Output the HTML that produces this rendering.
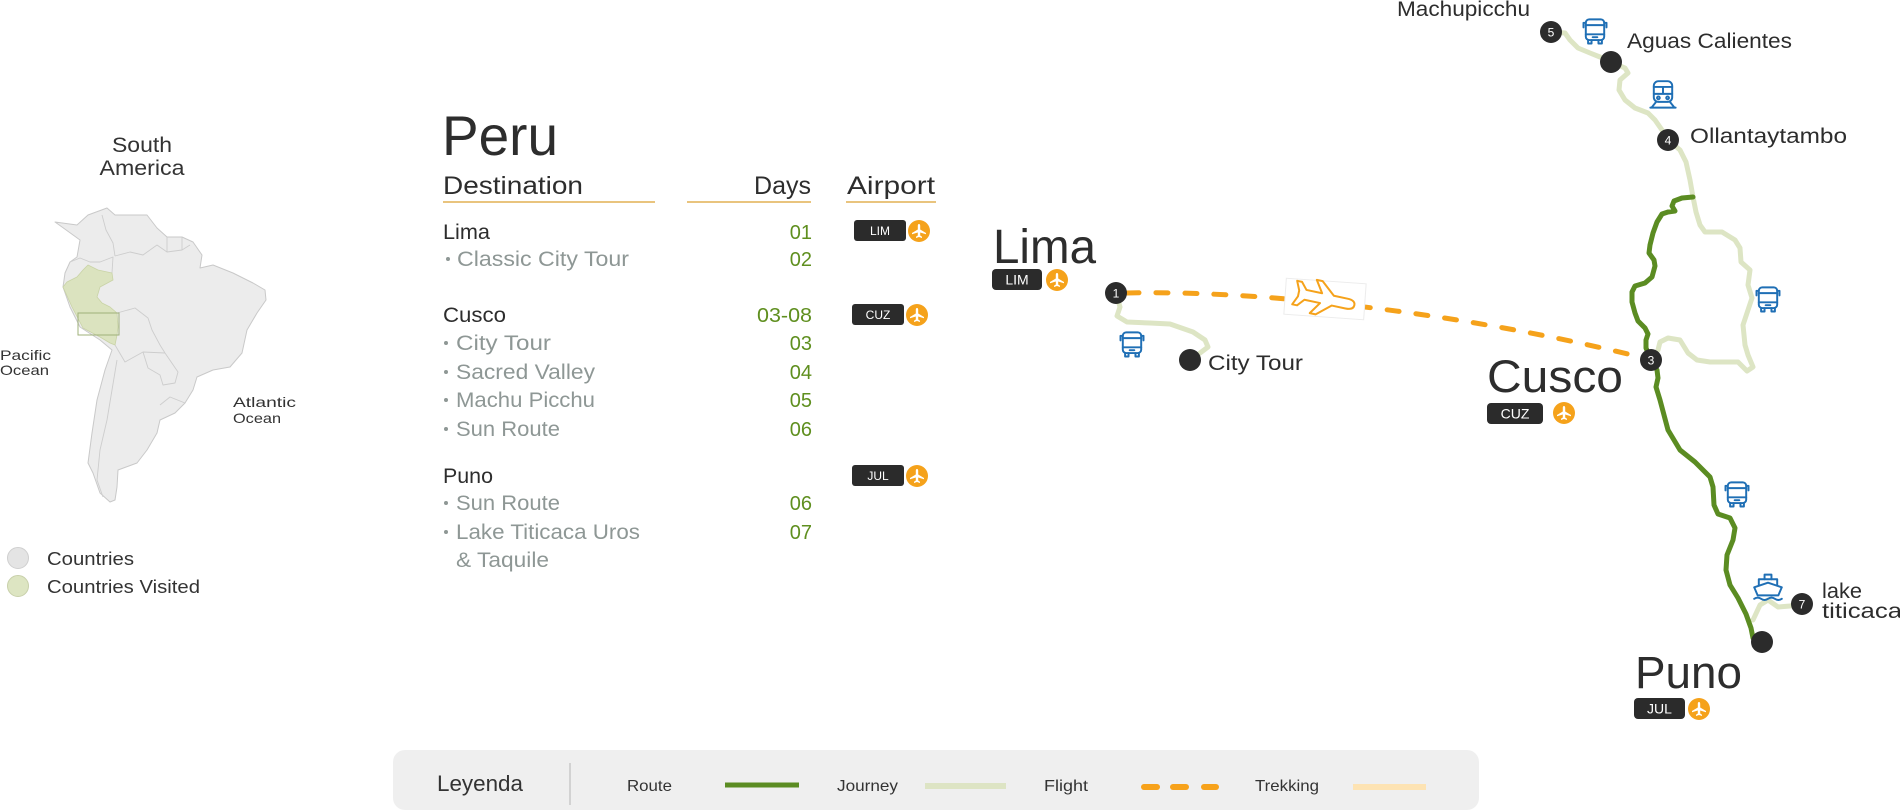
<!DOCTYPE html>
<html>
<head>
<meta charset="utf-8">
<style>
html,body{margin:0;padding:0;background:#fff;}
svg{display:block;}
text{font-family:"Liberation Sans",sans-serif;}
</style>
</head>
<body>
<svg width="1900" height="812" viewBox="0 0 1900 812" xmlns="http://www.w3.org/2000/svg">
<defs>
  <g id="bus" fill="none" stroke="#1f6fb5" stroke-width="1.7" stroke-linejoin="round" stroke-linecap="round">
    <rect x="-8" y="-11" width="16" height="18" rx="3"/>
    <path d="M-8,-6 H8 M-8,2 H8"/>
    <path d="M-8,-8 H-10 V-4 M8,-8 H10 V-4"/>
    <path d="M-6,7 V10 H-3 V7 M3,7 V10 H6 V7"/>
    <path d="M-2,4.5 H2"/>
  </g>
  <g id="train" fill="none" stroke="#1f6fb5" stroke-width="1.7" stroke-linejoin="round" stroke-linecap="round">
    <rect x="-8" y="-12" width="16" height="18" rx="4"/>
    <path d="M-8,-7 H8 M0,-7 V-1 M-8,-1 H8"/>
    <circle cx="-4" cy="2.5" r="1.2"/><circle cx="4" cy="2.5" r="1.2"/>
    <path d="M-6,6 L-10,11 M6,6 L10,11 M-11,11 H11"/>
  </g>
  <g id="ship" fill="none" stroke="#1f6fb5" stroke-width="1.7" stroke-linejoin="round" stroke-linecap="round">
    <path d="M-12,2 L-9,9 H9 L12,2 L0,-2 Z"/>
    <path d="M-8,0.5 V-5 H8 V0.5"/>
    <path d="M-3,-5 V-9 H3 V-5"/>
    <path d="M-12,12 q3,-2 6,0 t6,0 t6,0 t6,0"/>
  </g>
  <g id="plane">
    <circle r="11" fill="#f5a21b"/>
    <path fill="#fff" d="M0,-7 C1,-7 1.2,-6 1.2,-5 L1.2,-1.5 L7,2 L7,3.3 L1.2,1.5 L1.2,4.5 L3,5.8 L3,7 L0,6 L-3,7 L-3,5.8 L-1.2,4.5 L-1.2,1.5 L-7,3.3 L-7,2 L-1.2,-1.5 L-1.2,-5 C-1.2,-6 -1,-7 0,-7 Z"/>
  </g>
</defs>

<!-- ============ LEFT: South America map ============ -->
<text x="142" y="152" font-size="21" fill="#333" text-anchor="middle" textLength="60" lengthAdjust="spacingAndGlyphs">South</text>
<text x="142" y="175" font-size="21" fill="#333" text-anchor="middle" textLength="85" lengthAdjust="spacingAndGlyphs">America</text>

<path fill="#ececec" stroke="#c9c9c9" stroke-width="1" stroke-linejoin="round"
 d="M55,222 L77,225 L88,215 L107,208 L115,215 L147,215 L157,228 L167,237 L182,237 L193,242 L202,255 L200,268 L213,265 L233,273 L253,283 L265,290 L266,300 L257,313 L247,330 L242,353 L230,367 L213,370 L197,377 L193,390 L185,403 L175,413 L160,420 L157,433 L147,450 L137,463 L118,470 L117,487 L115,500 L110,502 L100,493 L93,473 L88,463 L92,433 L97,400 L105,370 L112,350 L100,340 L80,327 L70,307 L63,287 L65,273 L70,262 L77,257 L80,240 L62,227 Z"/>
<g fill="none" stroke="#cdcdcd" stroke-width="0.9" stroke-linejoin="round">
  <path d="M102,215 L106,230 L113,243 L115,256"/>
  <path d="M115,256 L130,252 L143,255 L157,245 L167,252 L182,250 L190,245"/>
  <path d="M167,237 L167,252 M182,237 L182,250"/>
  <path d="M70,262 L80,258 L90,262 L100,262 L113,257 L112,273"/>
  <path d="M117,313 L135,308 L148,318 L152,330 L160,345 L165,353"/>
  <path d="M115,345 L125,362 L143,352 L165,353"/>
  <path d="M143,352 L148,368 L160,375 L163,385 L175,383 L178,372 L165,353"/>
  <path d="M117,360 L112,390 L107,420 L100,450 L97,480 L103,497"/>
  <path d="M160,405 L170,397 L185,403"/>
</g>
<path fill="#dbe3bf" stroke="#c9d3a6" stroke-width="0.8" stroke-linejoin="round"
 d="M63,287 L67,282 L77,277 L83,270 L88,265 L98,270 L112,273 L113,280 L100,287 L97,297 L102,303 L110,307 L117,313 L118,327 L117,335 L115,345 L110,343 L100,337 L83,328 L72,307 Z"/>
<rect x="78" y="313" width="41" height="22" fill="none" stroke="#9fb07a" stroke-width="1"/>

<text x="0" y="360" font-size="14" fill="#333" textLength="51" lengthAdjust="spacingAndGlyphs">Pacific</text>
<text x="0" y="375" font-size="14" fill="#333" textLength="49" lengthAdjust="spacingAndGlyphs">Ocean</text>
<text x="233" y="407" font-size="14" fill="#333" textLength="63" lengthAdjust="spacingAndGlyphs">Atlantic</text>
<text x="233" y="423" font-size="14" fill="#333" textLength="48" lengthAdjust="spacingAndGlyphs">Ocean</text>

<circle cx="18" cy="558" r="10.5" fill="#e4e4e4" stroke="#cfcfcf" stroke-width="1"/>
<circle cx="18" cy="586" r="10.5" fill="#dde5c2" stroke="#c8d0aa" stroke-width="1"/>
<text x="47" y="565" font-size="18" fill="#333" textLength="87" lengthAdjust="spacingAndGlyphs">Countries</text>
<text x="47" y="593" font-size="18" fill="#333" textLength="153" lengthAdjust="spacingAndGlyphs">Countries Visited</text>

<!-- ============ TABLE ============ -->
<text x="442" y="155" font-size="56" fill="#2d2d2d" textLength="116" lengthAdjust="spacingAndGlyphs">Peru</text>
<text x="443" y="194" font-size="25" fill="#2d2d2d" textLength="140" lengthAdjust="spacingAndGlyphs">Destination</text>
<text x="754" y="194" font-size="25" fill="#2d2d2d" textLength="57" lengthAdjust="spacingAndGlyphs">Days</text>
<text x="847" y="194" font-size="25" fill="#2d2d2d" textLength="88" lengthAdjust="spacingAndGlyphs">Airport</text>
<g stroke="#e9c47e" stroke-width="2">
  <line x1="443" y1="202" x2="655" y2="202"/>
  <line x1="687" y1="202" x2="811" y2="202"/>
  <line x1="846" y1="202" x2="936" y2="202"/>
</g>

<g font-size="21" fill="#2d2d2d">
  <text x="443" y="239" textLength="47" lengthAdjust="spacingAndGlyphs">Lima</text>
  <text x="443" y="322" textLength="63" lengthAdjust="spacingAndGlyphs">Cusco</text>
  <text x="443" y="483" textLength="50" lengthAdjust="spacingAndGlyphs">Puno</text>
</g>
<g font-size="21" fill="#8e9795">
  <text x="457" y="266" textLength="172" lengthAdjust="spacingAndGlyphs">Classic City Tour</text>
  <text x="456" y="350" textLength="95" lengthAdjust="spacingAndGlyphs">City Tour</text>
  <text x="456" y="379" textLength="139" lengthAdjust="spacingAndGlyphs">Sacred Valley</text>
  <text x="456" y="407" textLength="139" lengthAdjust="spacingAndGlyphs">Machu Picchu</text>
  <text x="456" y="436" textLength="104" lengthAdjust="spacingAndGlyphs">Sun Route</text>
  <text x="456" y="510" textLength="104" lengthAdjust="spacingAndGlyphs">Sun Route</text>
  <text x="456" y="539" textLength="184" lengthAdjust="spacingAndGlyphs">Lake Titicaca Uros</text>
  <text x="456" y="567" textLength="93" lengthAdjust="spacingAndGlyphs">&amp; Taquile</text>
</g>
<g fill="#8e9795">
  <circle cx="448" cy="259" r="2"/>
  <circle cx="446" cy="343" r="2"/>
  <circle cx="446" cy="372" r="2"/>
  <circle cx="446" cy="400" r="2"/>
  <circle cx="446" cy="429" r="2"/>
  <circle cx="446" cy="503" r="2"/>
  <circle cx="446" cy="532" r="2"/>
</g>
<g font-size="20" fill="#5f8f1f" text-anchor="end">
  <text x="812" y="239">01</text>
  <text x="812" y="266">02</text>
  <text x="812" y="322" textLength="55" lengthAdjust="spacingAndGlyphs">03-08</text>
  <text x="812" y="350">03</text>
  <text x="812" y="379">04</text>
  <text x="812" y="407">05</text>
  <text x="812" y="436">06</text>
  <text x="812" y="510">06</text>
  <text x="812" y="539">07</text>
</g>

<!-- table badges -->
<rect x="854" y="220" width="52" height="21" rx="3" fill="#2b2b2b"/>
<text x="880" y="235" font-size="12" fill="#fff" text-anchor="middle">LIM</text>
<use href="#plane" x="919" y="231"/>
<rect x="852" y="304" width="52" height="21" rx="3" fill="#2b2b2b"/>
<text x="878" y="319" font-size="12" fill="#fff" text-anchor="middle">CUZ</text>
<use href="#plane" x="917" y="315"/>
<rect x="852" y="465" width="52" height="21" rx="3" fill="#2b2b2b"/>
<text x="878" y="480" font-size="12" fill="#fff" text-anchor="middle">JUL</text>
<use href="#plane" x="917" y="476"/>

<!-- ============ RIGHT: route map ============ -->
<g fill="none" stroke="#dde5c4" stroke-width="5" stroke-linejoin="round" stroke-linecap="round">
  <polyline points="1116,293 1120,307 1117,316 1127,322 1150,323 1170,324 1193,332 1205,340 1208,347 1200,353 1190,360"/>
  <polyline points="1551,32 1565,33 1570,40 1578,48 1590,53 1600,57 1611,62 1625,68 1628,73 1620,80 1619,90 1625,100 1635,108 1648,113 1655,120 1662,130 1668,140 1680,150 1686,162 1690,180 1693,197 1696,212 1700,225 1705,232 1722,232 1735,240 1740,248 1741,262 1750,270 1748,285 1752,298 1748,310 1743,325 1745,345 1748,355 1753,367 1747,371 1738,362 1710,362 1697,360 1688,353 1680,340 1668,338 1660,342 1658,350 1651,360"/>
  <polyline points="1753,620 1760,605 1768,600 1778,607 1790,606 1802,604"/>
</g>
<polyline fill="none" stroke="#5b8c22" stroke-width="5" stroke-linejoin="round" stroke-linecap="round"
 points="1693,197 1682,198 1674,201 1672,206 1675,211 1668,212 1662,214 1657,222 1653,233 1650,245 1649,253 1654,260 1655,266 1652,277 1645,283 1635,286 1632,292 1632,302 1635,313 1638,321 1645,328 1648,334 1646,340 1646,348 1651,360 1657,370 1658,378 1656,387 1660,400 1668,430 1680,450 1695,462 1710,477 1713,487 1714,505 1718,514 1730,518 1735,528 1733,540 1727,555 1726,570 1730,585 1738,598 1746,614 1751,628 1753,638 1762,642"/>
<path d="M1127,293 C1250,290 1450,310 1640,357" fill="none" stroke="#f5a21b" stroke-width="5" stroke-linecap="round" stroke-dasharray="12 17"/>
<g transform="translate(1325,299) rotate(4)">
  <rect x="-40" y="-18" width="80" height="36" fill="#fff" stroke="#ececec" stroke-width="1"/>
  <path transform="rotate(8)" fill="#fff" stroke="#f5a21b" stroke-width="2" stroke-linejoin="round"
   d="M30,0 C30,-4 26,-5 22,-5 L8,-5 L-6,-17 L-12,-17 L-4,-5 L-20,-5 L-26,-12 L-31,-12 L-27,-3 L-27,3 L-31,12 L-26,12 L-20,5 L-4,5 L-12,17 L-6,17 L8,5 L22,5 C26,5 30,4 30,0 Z"/>
</g>

<!-- icons -->
<use href="#bus" transform="translate(1132,345) scale(1.15)"/>
<use href="#bus" transform="translate(1595,32) scale(1.15)"/>
<use href="#train" transform="translate(1663,95) scale(1.15)"/>
<use href="#bus" transform="translate(1768,300) scale(1.15)"/>
<use href="#bus" transform="translate(1737,495) scale(1.15)"/>
<use href="#ship" transform="translate(1768,585) scale(1.15)"/>

<!-- nodes -->
<g fill="#2b2b2b">
  <circle cx="1116" cy="293" r="11"/>
  <circle cx="1651" cy="360" r="11"/>
  <circle cx="1668" cy="140" r="11"/>
  <circle cx="1551" cy="32" r="11"/>
  <circle cx="1802" cy="604" r="11"/>
  <circle cx="1190" cy="360" r="11"/>
  <circle cx="1611" cy="62" r="11"/>
  <circle cx="1762" cy="642" r="11"/>
</g>
<g font-size="12" fill="#fff" text-anchor="middle">
  <text x="1116" y="297.5">1</text>
  <text x="1651" y="364.5">3</text>
  <text x="1668" y="144.5">4</text>
  <text x="1551" y="36.5">5</text>
  <text x="1802" y="608.5">7</text>
</g>

<!-- map labels -->
<text x="993" y="263" font-size="48" fill="#2d2d2d" textLength="103" lengthAdjust="spacingAndGlyphs">Lima</text>
<rect x="992" y="269" width="50" height="21" rx="4" fill="#2b2b2b"/>
<text x="1017" y="284.5" font-size="14" fill="#fff" text-anchor="middle">LIM</text>
<use href="#plane" x="1057" y="280"/>

<text x="1208" y="370" font-size="21" fill="#2d2d2d" textLength="95" lengthAdjust="spacingAndGlyphs">City Tour</text>
<text x="1397" y="16" font-size="21" fill="#2d2d2d" textLength="133" lengthAdjust="spacingAndGlyphs">Machupicchu</text>
<text x="1627" y="48" font-size="21" fill="#2d2d2d" textLength="165" lengthAdjust="spacingAndGlyphs">Aguas Calientes</text>
<text x="1690" y="143" font-size="21" fill="#2d2d2d" textLength="157" lengthAdjust="spacingAndGlyphs">Ollantaytambo</text>

<text x="1487" y="392" font-size="45" fill="#2d2d2d" textLength="136" lengthAdjust="spacingAndGlyphs">Cusco</text>
<rect x="1487" y="403" width="56" height="21" rx="4" fill="#2b2b2b"/>
<text x="1515" y="418.5" font-size="14" fill="#fff" text-anchor="middle">CUZ</text>
<use href="#plane" x="1564" y="413"/>

<text x="1635" y="688" font-size="45" fill="#2d2d2d" textLength="107" lengthAdjust="spacingAndGlyphs">Puno</text>
<rect x="1634" y="698" width="51" height="21" rx="4" fill="#2b2b2b"/>
<text x="1659.5" y="713.5" font-size="14" fill="#fff" text-anchor="middle">JUL</text>
<use href="#plane" x="1699" y="709"/>

<text x="1822" y="598" font-size="21" fill="#2d2d2d" textLength="40" lengthAdjust="spacingAndGlyphs">lake</text>
<text x="1822" y="618" font-size="21" fill="#2d2d2d" textLength="80" lengthAdjust="spacingAndGlyphs">titicaca</text>

<!-- ============ LEGEND ============ -->
<rect x="393" y="750" width="1086" height="60" rx="12" fill="#efefef"/>
<text x="437" y="791" font-size="22" fill="#333" textLength="86" lengthAdjust="spacingAndGlyphs">Leyenda</text>
<line x1="570" y1="763" x2="570" y2="805" stroke="#c8c8c8" stroke-width="1.5"/>
<g font-size="16" fill="#333">
  <text x="627" y="791" textLength="45" lengthAdjust="spacingAndGlyphs">Route</text>
  <text x="837" y="791" textLength="61" lengthAdjust="spacingAndGlyphs">Journey</text>
  <text x="1044" y="791" textLength="44" lengthAdjust="spacingAndGlyphs">Flight</text>
  <text x="1255" y="791" textLength="64" lengthAdjust="spacingAndGlyphs">Trekking</text>
</g>
<line x1="725" y1="785" x2="799" y2="785" stroke="#5b8c22" stroke-width="5"/>
<line x1="925" y1="786" x2="1006" y2="786" stroke="#dde4c4" stroke-width="6"/>
<g stroke="#f7a21b" stroke-width="6" stroke-linecap="round">
  <line x1="1144" y1="787" x2="1157" y2="787"/>
  <line x1="1173" y1="787" x2="1186" y2="787"/>
  <line x1="1204" y1="787" x2="1216" y2="787"/>
</g>
<line x1="1353" y1="787" x2="1426" y2="787" stroke="#fde3b3" stroke-width="6"/>
</svg>
</body>
</html>
